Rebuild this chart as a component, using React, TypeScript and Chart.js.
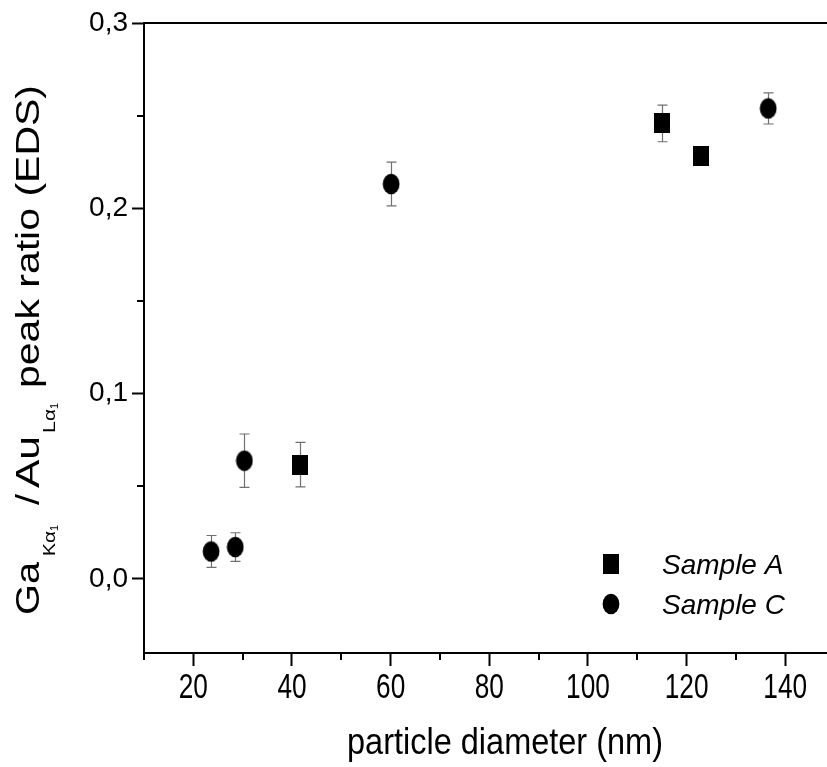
import React, { useEffect, useRef } from 'react';
import { Chart, registerables } from 'chart.js';

Chart.register(...registerables);

// ---- data ----
const SERIES_LABELS = ['Sample A', 'Sample C'];
const SAMPLE_A_X = [41.7, 115.0, 123.0];
const SAMPLE_A_Y = [0.0617, 0.2458, 0.2282];
const SAMPLE_A_ERR = [0.012, 0.0099, 0.005];
const SAMPLE_C_X = [23.6, 28.5, 30.35, 60.1, 136.55];
const SAMPLE_C_Y = [0.0148, 0.0172, 0.0638, 0.2131, 0.2539];
const SAMPLE_C_ERR = [0.0086, 0.0077, 0.0144, 0.0118, 0.0084];

const X_MAJOR_TICKS = [20, 40, 60, 80, 100, 120, 140];
const X_MINOR_TICKS = [10, 30, 50, 70, 90, 110, 130];
const Y_MAJOR_TICKS = [0, 0.1, 0.2, 0.3];
const Y_MINOR_TICKS = [0.05, 0.15, 0.25];
const X_MIN = 10;
const X_MAX = 148.46;
const Y_MIN = -0.04;
const Y_MAX = 0.3;

const X_TITLE = 'particle diameter (nm)';
// y title pieces: text, role (main / sub / subsub)
const Y_TITLE_TEXTS = ['Ga', 'K', 'α', '1', '/', 'Au', 'L', 'α', '1', 'peak ratio (EDS)'];
const Y_TITLE_ROLES = ['main', 'sub', 'sub', 'subsub', 'main', 'main', 'sub', 'sub', 'subsub', 'main'];

// ---- layout / style (not data) ----
const Y_TITLE_SPANS: [number, number][] = [
  [615, 562], [556, 543], [543, 531], [531, 525], [505, 494], [488, 436],
  [433, 421], [421, 409], [409, 403], [388, 85],
];
const ROLE_FONT: Record<string, string> = {
  main: '34px "Liberation Sans", Arial, sans-serif',
  sub: '17px "Liberation Sans", Arial, sans-serif',
  subsub: '11px "Liberation Sans", Arial, sans-serif',
};
const ROLE_BASE: Record<string, number> = { main: 39, sub: 55, subsub: 58 };

function makeMarker(kind: 'square' | 'circle'): HTMLCanvasElement {
  const c = document.createElement('canvas');
  if (kind === 'square') {
    c.width = 16;
    c.height = 20;
    const g = c.getContext('2d')!;
    g.fillStyle = '#000';
    g.fillRect(0, 0, 16, 20);
  } else {
    c.width = 18;
    c.height = 22;
    const g = c.getContext('2d')!;
    g.fillStyle = '#000';
    g.beginPath();
    g.ellipse(9, 11, 8.4, 10.3, 0, 0, Math.PI * 2);
    g.fill();
  }
  return c;
}

export default function App() {
  const ref = useRef<HTMLCanvasElement | null>(null);

  useEffect(() => {
    if (!ref.current) return;
    const square = makeMarker('square');
    const circle = makeMarker('circle');
    const markers = [square, circle];
    const errors = [SAMPLE_A_ERR, SAMPLE_C_ERR];

    const errorBars = {
      id: 'errorBars',
      beforeDatasetsDraw(chart: any) {
        const ctx = chart.ctx;
        const ys = chart.scales.y;
        ctx.save();
        ctx.strokeStyle = '#707070';
        ctx.lineWidth = 1.2;
        chart.data.datasets.forEach((ds: any, di: number) => {
          const meta = chart.getDatasetMeta(di);
          meta.data.forEach((pt: any, i: number) => {
            const v = ds.data[i].y;
            const e = errors[di][i];
            const y1 = ys.getPixelForValue(v + e);
            const y2 = ys.getPixelForValue(v - e);
            const x = Math.round(pt.x) + 0.5;
            ctx.beginPath();
            ctx.moveTo(x, y1);
            ctx.lineTo(x, y2);
            ctx.moveTo(x - 5, y1);
            ctx.lineTo(x + 5, y1);
            ctx.moveTo(x - 5, y2);
            ctx.lineTo(x + 5, y2);
            ctx.stroke();
          });
        });
        ctx.restore();
      },
    };

    const decorations = {
      id: 'decorations',
      afterDraw(chart: any) {
        const ctx = chart.ctx;
        const a = chart.chartArea;
        const xs = chart.scales.x;
        const ys = chart.scales.y;
        ctx.save();
        ctx.strokeStyle = '#000';
        ctx.lineWidth = 2;
        // top frame line
        ctx.beginPath();
        ctx.moveTo(a.left - 1, a.top);
        ctx.lineTo(a.right, a.top);
        ctx.stroke();
        // minor ticks
        ctx.beginPath();
        X_MINOR_TICKS.forEach((v) => {
          const px = Math.round(xs.getPixelForValue(v));
          ctx.moveTo(px, a.bottom);
          ctx.lineTo(px, a.bottom + 7);
        });
        Y_MINOR_TICKS.forEach((v) => {
          const py = Math.round(ys.getPixelForValue(v));
          ctx.moveTo(a.left, py);
          ctx.lineTo(a.left - 7, py);
        });
        ctx.stroke();

        ctx.fillStyle = '#000';
        ctx.textBaseline = 'alphabetic';

        // x tick labels (condensed)
        ctx.font = '35px "Liberation Sans", Arial, sans-serif';
        ctx.textAlign = 'center';
        X_MAJOR_TICKS.forEach((v) => {
          const px = xs.getPixelForValue(v);
          ctx.save();
          ctx.translate(px, 698);
          ctx.scale(0.75, 1);
          ctx.fillText(String(v), 0, 0);
          ctx.restore();
        });

        // legend
        const rows = [563.5, 603.5];
        ctx.font = 'italic 28px "Liberation Sans", Arial, sans-serif';
        ctx.textAlign = 'left';
        SERIES_LABELS.forEach((lab, i) => {
          const m = markers[i];
          ctx.drawImage(m, Math.round(611 - m.width / 2), Math.round(rows[i] - m.height / 2));
          ctx.fillText(lab, 662, rows[i] + 10);
        });

        // x title
        ctx.font = '37px "Liberation Sans", Arial, sans-serif';
        const w = ctx.measureText(X_TITLE).width;
        ctx.save();
        ctx.translate(347, 754);
        ctx.scale(316 / w, 1);
        ctx.fillText(X_TITLE, 0, 0);
        ctx.restore();

        // y title
        Y_TITLE_TEXTS.forEach((t, i) => {
          const role = Y_TITLE_ROLES[i];
          const [from, to] = Y_TITLE_SPANS[i];
          ctx.save();
          ctx.font = ROLE_FONT[role];
          const tw = ctx.measureText(t).width;
          ctx.translate(ROLE_BASE[role], from);
          ctx.rotate(-Math.PI / 2);
          ctx.scale((from - to) / tw, 1);
          ctx.fillText(t, 0, 0);
          ctx.restore();
        });
        ctx.restore();
      },
    };

    const chart = new Chart(ref.current, {
      type: 'scatter',
      data: {
        datasets: [
          {
            label: SERIES_LABELS[0],
            data: SAMPLE_A_X.map((x, i) => ({ x, y: SAMPLE_A_Y[i] })),
            pointStyle: square as any,
            pointRadius: 8,
            backgroundColor: '#000',
            borderColor: '#000',
          },
          {
            label: SERIES_LABELS[1],
            data: SAMPLE_C_X.map((x, i) => ({ x, y: SAMPLE_C_Y[i] })),
            pointStyle: circle as any,
            pointRadius: 8,
            backgroundColor: '#000',
            borderColor: '#000',
          },
        ],
      },
      options: {
        animation: false,
        responsive: true,
        maintainAspectRatio: false,
        layout: { autoPadding: false, padding: { top: 23, left: 0, right: 0, bottom: 0 } },
        plugins: { legend: { display: false }, tooltip: { enabled: false } },
        scales: {
          x: {
            type: 'linear',
            min: X_MIN,
            max: X_MAX,
            afterBuildTicks: (s: any) => {
              s.ticks = X_MAJOR_TICKS.map((v) => ({ value: v }));
            },
            afterFit: (s: any) => {
              s.height = 114;
              s.paddingLeft = 0;
              s.paddingRight = 0;
            },
            grid: {
              drawOnChartArea: false,
              drawTicks: true,
              tickLength: 13,
              tickWidth: 2,
              tickColor: '#000',
            },
            border: { display: true, color: '#000', width: 2 },
            ticks: { display: false, autoSkip: false, maxRotation: 0 },
          },
          y: {
            type: 'linear',
            min: Y_MIN,
            max: Y_MAX,
            afterBuildTicks: (s: any) => {
              s.ticks = Y_MAJOR_TICKS.map((v) => ({ value: v }));
            },
            afterFit: (s: any) => {
              s.width = 144;
              s.paddingTop = 0;
              s.paddingBottom = 0;
            },
            grid: {
              drawOnChartArea: false,
              drawTicks: true,
              tickLength: 12,
              tickWidth: 2,
              tickColor: '#000',
            },
            border: { display: true, color: '#000', width: 2 },
            ticks: {
              autoSkip: false,
              padding: 4,
              color: '#000',
              font: { family: '"Liberation Sans", Arial, sans-serif', size: 28 },
              callback: (v: any) => Number(v).toFixed(1).replace('.', ','),
            },
          },
        },
      },
      plugins: [errorBars, decorations],
    } as any);

    return () => chart.destroy();
  }, []);

  return (
    <div style={{ position: 'absolute', left: 0, top: 0, width: 827, height: 767, background: '#fff' }}>
      <canvas ref={ref} />
    </div>
  );
}
